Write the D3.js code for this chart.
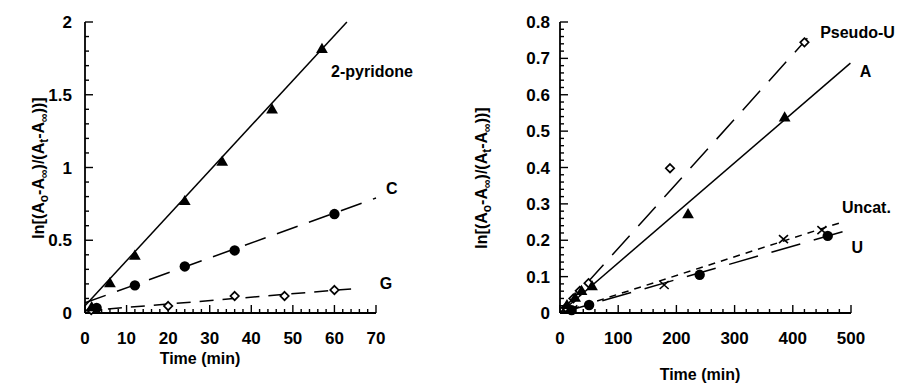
<!DOCTYPE html>
<html><head><meta charset="utf-8">
<script src="https://cdn.jsdelivr.net/npm/d3@7"></script>
<style>
html,body{margin:0;padding:0;background:#fff;}
svg{display:block;font-family:"Liberation Sans",Arial,Helvetica,sans-serif;}
</style></head>
<body><svg id="c" width="912" height="386"></svg>
<script>
// ---------- Left panel data ----------
const pyridoneT = [1.6, 6, 12, 24, 33, 45, 57];
const pyridoneV = [0.035, 0.2, 0.39, 0.765, 1.035, 1.395, 1.81];
const cT = [2.8, 12, 24, 36, 60];
const cV = [0.035, 0.19, 0.32, 0.43, 0.68];
const gT = [1.5, 20, 36, 48, 60];
const gV = [0.02, 0.048, 0.117, 0.117, 0.158];
const pyridoneFitT = [0, 63], pyridoneFitV = [0.05, 2.0];
const cFitT = [0, 70], cFitV = [0.07, 0.79];
const gFitT = [0, 66], gFitV = [0.015, 0.17];
const leftXTicks = [0, 10, 20, 30, 40, 50, 60, 70];
const leftYTicks = [0, 0.5, 1, 1.5, 2];

// ---------- Right panel data ----------
const pseudoT = [10, 23, 34, 49, 189, 420];
const pseudoV = [0.015, 0.04, 0.061, 0.082, 0.398, 0.744];
const aT = [12, 26, 37, 55, 220, 386];
const aV = [0.02, 0.04, 0.059, 0.072, 0.27, 0.536];
const uncatT = [22, 179, 384, 450];
const uncatV = [0.01, 0.077, 0.203, 0.228];
const uT = [20, 50, 240, 460];
const uV = [0.008, 0.022, 0.105, 0.212];
const pseudoFitT = [0, 425], pseudoFitV = [0, 0.755];
const aFitT = [0, 499], aFitV = [0, 0.687];
const uncatFitT = [0, 487], uncatFitV = [0, 0.251];
const uFitT = [0, 500], uFitV = [0, 0.23];
const rightXTicks = [0, 100, 200, 300, 400, 500];
const rightYTicks = [0, 0.1, 0.2, 0.3, 0.4, 0.5, 0.6, 0.7, 0.8];

const svg = d3.select("#c");
const zip = (a, b) => a.map((v, i) => [v, b[i]]);

function panel(opt) {
  const g = svg.append("g");
  const x = d3.scaleLinear().domain(opt.xDomain).range(opt.xRange);
  const y = d3.scaleLinear().domain(opt.yDomain).range(opt.yRange);
  const y0 = opt.yRange[0], x0 = opt.xRange[0];

  g.append("line").attr("x1", x0).attr("x2", x0).attr("y1", y0).attr("y2", opt.yRange[1])
    .attr("stroke", "#000").attr("stroke-width", 1.8);
  g.append("line").attr("x1", x0).attr("x2", opt.xRange[1]).attr("y1", y0).attr("y2", y0)
    .attr("stroke", "#000").attr("stroke-width", 1.8);

  const xAll = d3.range(opt.xDomain[0], opt.xDomain[1] + 1e-9, opt.xMinor);
  xAll.forEach(v => {
    const major = Math.abs(v / opt.xMajor - Math.round(v / opt.xMajor)) < 1e-6;
    g.append("line").attr("x1", x(v)).attr("x2", x(v)).attr("y1", y0).attr("y2", y0 - (major ? 8 : 4))
      .attr("stroke", "#000").attr("stroke-width", 1.4);
  });
  const yAll = d3.range(opt.yDomain[0], opt.yDomain[1] + 1e-9, opt.yMinor);
  yAll.forEach(v => {
    const major = Math.abs(v / opt.yMajor - Math.round(v / opt.yMajor)) < 1e-6;
    g.append("line").attr("x1", x0).attr("x2", x0 + (major ? 8 : 4)).attr("y1", y(v)).attr("y2", y(v))
      .attr("stroke", "#000").attr("stroke-width", 1.4);
  });

  g.selectAll(".xl").data(opt.xTicks).enter().append("text")
    .attr("x", d => x(d)).attr("y", 344).attr("text-anchor", "middle")
    .attr("font-size", 17).attr("font-weight", "bold").text(d => d);
  g.selectAll(".yl").data(opt.yTicks).enter().append("text")
    .attr("x", x0 - opt.yLabelGap).attr("y", d => y(d)).attr("dy", "0.36em").attr("text-anchor", "end")
    .attr("font-size", 17).attr("font-weight", "bold").text(d => d);

  g.append("text").attr("x", opt.xTitleX).attr("y", opt.xTitleY).attr("text-anchor", "middle")
    .attr("font-size", 16).attr("font-weight", "bold").text("Time (min)");

  const yt = g.append("text").attr("transform", `translate(${opt.yTitleX},${opt.yTitleY}) rotate(-90)`)
    .attr("text-anchor", "middle").attr("font-size", 16).attr("font-weight", "bold");
  const parts = [["ln[(A", 0], ["o", 1], ["-A", 0], ["\u221e", 1], [")/(A", 0], ["t", 1], ["-A", 0], ["\u221e", 1], ["))]", 0]];
  parts.forEach(([t, sub]) => {
    const ts = yt.append("tspan").text(t);
    if (sub) ts.attr("font-size", 12).attr("baseline-shift", "-30%");
  });

  opt.fits.forEach(f => {
    g.append("path").attr("d", d3.line().x(d => x(d[0])).y(d => y(d[1]))(zip(f.t, f.v)))
      .attr("fill", "none").attr("stroke", "#000").attr("stroke-width", 1.5)
      .attr("stroke-dasharray", f.dash || null);
  });

  opt.series.forEach(s => {
    zip(s.t, s.v).forEach(p => {
      const px = x(p[0]), py = y(p[1]);
      if (s.m === "tri") {
        g.append("path").attr("d", d3.symbol(d3.symbolTriangle, 60)()).attr("transform", `translate(${px},${py})`).attr("fill", "#000");
      } else if (s.m === "circ") {
        g.append("circle").attr("cx", px).attr("cy", py).attr("r", 5.2).attr("fill", "#000");
      } else if (s.m === "dia") {
        g.append("path").attr("d", "M0,-4.2L4.2,0L0,4.2L-4.2,0Z").attr("transform", `translate(${px},${py})`)
          .attr("fill", "#fff").attr("stroke", "#000").attr("stroke-width", 1.7);
      } else if (s.m === "x") {
        g.append("path").attr("d", "M-4.5,-4L4.5,4M-4.5,4L4.5,-4").attr("transform", `translate(${px},${py})`)
          .attr("stroke", "#000").attr("stroke-width", 1.6);
      }
    });
  });

  opt.labels.forEach(l => {
    g.append("text").attr("x", x(l.t)).attr("y", y(l.v)).attr("dy", "0.36em")
      .attr("text-anchor", l.anchor || "start").attr("font-size", 16).attr("font-weight", "bold").text(l.text);
  });
}

panel({
  xDomain: [0, 70], xRange: [85, 376], yDomain: [0, 2], yRange: [313, 22],
  xMinor: 2, xMajor: 10, yMinor: 0.1, yMajor: 0.5,
  xTicks: leftXTicks, yTicks: leftYTicks, yLabelGap: 13,
  xTitleX: 200, xTitleY: 364, yTitleX: 44, yTitleY: 168,
  fits: [
    { t: pyridoneFitT, v: pyridoneFitV },
    { t: cFitT, v: cFitV, dash: "22,12" },
    { t: gFitT, v: gFitV, dash: "14,9" }
  ],
  series: [
    { t: gT, v: gV, m: "dia" },
    { t: cT, v: cV, m: "circ" },
    { t: pyridoneT, v: pyridoneV, m: "tri" }
  ],
  labels: [
    { text: "2-pyridone", t: 59.2, v: 1.663 },
    { text: "C", t: 73.8, v: 0.86, anchor: "middle" },
    { text: "G", t: 72.4, v: 0.206, anchor: "middle" }
  ]
});

panel({
  xDomain: [0, 500], xRange: [560, 851], yDomain: [0, 0.8], yRange: [313, 22],
  xMinor: 20, xMajor: 100, yMinor: 0.02, yMajor: 0.1,
  xTicks: rightXTicks, yTicks: rightYTicks, yLabelGap: 10,
  xTitleX: 700, xTitleY: 380, yTitleX: 487, yTitleY: 178,
  fits: [
    { t: pseudoFitT, v: pseudoFitV, dash: "26,13" },
    { t: aFitT, v: aFitV },
    { t: uncatFitT, v: uncatFitV, dash: "7,6" },
    { t: uFitT, v: uFitV, dash: "30,14" }
  ],
  series: [
    { t: pseudoT, v: pseudoV, m: "dia" },
    { t: aT, v: aV, m: "tri" },
    { t: uncatT, v: uncatV, m: "x" },
    { t: uT, v: uV, m: "circ" }
  ],
  labels: [
    { text: "Pseudo-U", t: 447, v: 0.773 },
    { text: "A", t: 525, v: 0.666, anchor: "middle" },
    { text: "Uncat.", t: 484.5, v: 0.292 },
    { text: "U", t: 511, v: 0.182, anchor: "middle" }
  ]
});
</script></body></html>
